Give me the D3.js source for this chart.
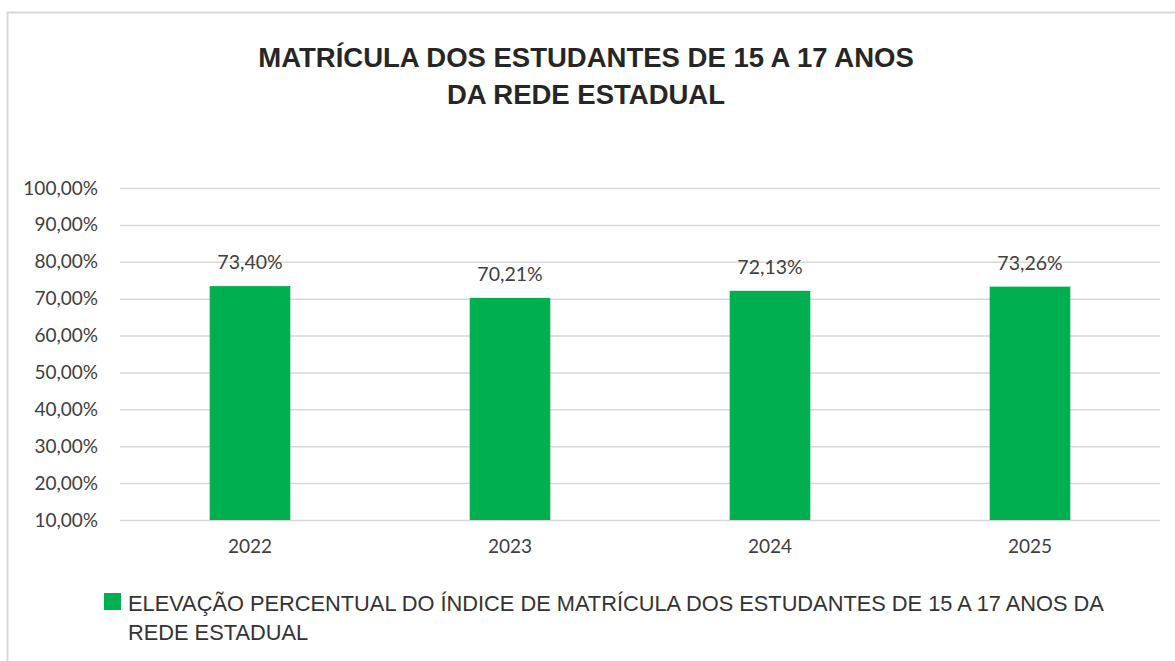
<!DOCTYPE html>
<html>
<head>
<meta charset="utf-8">
<script src="https://cdn.jsdelivr.net/npm/d3@7"></script>
<style>
  body { margin: 0; background: #fff; }
  svg { display: block; }
</style>
</head>
<body>
<div id="chart"></div>
<script>
// chart data
const years = ["2022", "2023", "2024", "2025"];
const values = [73.40, 70.21, 72.13, 73.26];
const valueLabels = ["73,40%", "70,21%", "72,13%", "73,26%"];
const yTicks = [10, 20, 30, 40, 50, 60, 70, 80, 90, 100];
const titleLines = ["MATRÍCULA DOS ESTUDANTES DE 15 A 17 ANOS", "DA REDE ESTADUAL"];
const legendLines = ["ELEVAÇÃO PERCENTUAL DO ÍNDICE DE MATRÍCULA DOS ESTUDANTES DE 15 A 17 ANOS DA", "REDE ESTADUAL"];

const width = 1175, height = 661;
const margin = {top: 188, right: 15, bottom: 141, left: 120};
const plotW = width - margin.left - margin.right,
    plotH = height - margin.top - margin.bottom;

let svg = d3.select("#chart")
    .append("svg")
    .attr("width", width)
    .attr("height", height);

// outer frame
svg.append("path")
    .attr("d", "M7.5," + height + " V12.5 H" + width)
    .attr("fill", "none")
    .attr("stroke", "#d9d9d9")
    .attr("stroke-width", 2);

// title
svg.append("g")
    .selectAll("text")
    .data(titleLines)
    .join("text")
    .attr("x", 586)
    .attr("y", (d, i) => 67 + i * 37)
    .attr("text-anchor", "middle")
    .attr("font-family", "Liberation Sans, Arial, sans-serif")
    .attr("font-weight", "bold")
    .attr("font-size", 27.5)
    .attr("fill", "#262626")
    .text(d => d);

let g = svg.append("g")
    .attr("transform", "translate(" + margin.left + "," + margin.top + ")");

let x = d3.scaleBand()
    .domain(years)
    .range([0, plotW])
    .paddingInner(0.69)
    .paddingOuter(0.345);

let y = d3.scaleLinear()
    .domain([10, 100])
    .range([plotH, 0]);

// grid lines
g.append("g")
    .selectAll("line")
    .data(yTicks)
    .join("line")
    .attr("x1", 0)
    .attr("x2", plotW)
    .attr("y1", d => y(d) + 0.5)
    .attr("y2", d => y(d) + 0.5)
    .attr("stroke", "#d9d9d9")
    .attr("stroke-width", 1.5);

// y axis labels
let yAxis = g.append("g")
    .attr("transform", "translate(-19,0)")
    .call(d3.axisLeft(y).tickValues(yTicks).tickSize(0)
        .tickFormat(d => d3.format(".2f")(d).replace(".", ",") + "%"));
yAxis.select(".domain").remove();
yAxis.selectAll("text")
    .attr("font-family", "Lato, Open Sans, sans-serif")
    .attr("font-size", 19)
    .attr("fill", "#404040");

// x axis labels
let xAxis = g.append("g")
    .attr("transform", "translate(0," + plotH + ")")
    .call(d3.axisBottom(x).tickSize(0).tickPadding(20));
xAxis.select(".domain").remove();
xAxis.selectAll("text")
    .attr("font-family", "Lato, Open Sans, sans-serif")
    .attr("font-size", 19)
    .attr("fill", "#404040");

// bars
g.append("g")
    .selectAll("rect")
    .data(values)
    .join("rect")
    .attr("x", (d, i) => x(years[i]))
    .attr("y", d => y(d))
    .attr("width", x.bandwidth())
    .attr("height", d => y(10) - y(d))
    .attr("fill", "#00b050");

// value labels
g.append("g")
    .selectAll("text")
    .data(values)
    .join("text")
    .attr("x", (d, i) => x(years[i]) + x.bandwidth() / 2)
    .attr("y", d => y(d) - 17)
    .attr("text-anchor", "middle")
    .attr("font-family", "Lato, Open Sans, sans-serif")
    .attr("font-size", 19.5)
    .attr("fill", "#404040")
    .text((d, i) => valueLabels[i]);

// legend
svg.append("rect")
    .attr("x", 104)
    .attr("y", 593)
    .attr("width", 17)
    .attr("height", 17)
    .attr("fill", "#00b050");

svg.append("g")
    .selectAll("text")
    .data(legendLines)
    .join("text")
    .attr("x", 128)
    .attr("y", (d, i) => 611 + i * 29)
    .attr("font-family", "Liberation Sans, Arial, sans-serif")
    .attr("font-size", 21.8)
    .attr("fill", "#333")
    .text(d => d);
</script>
</body>
</html>
